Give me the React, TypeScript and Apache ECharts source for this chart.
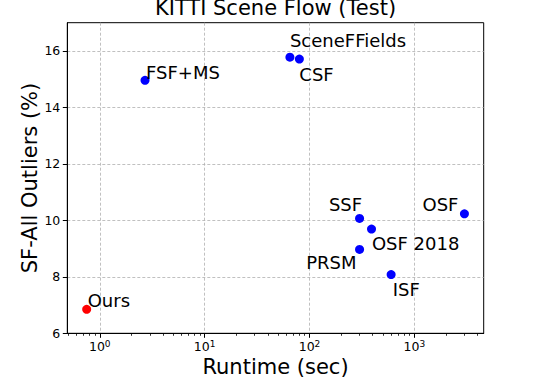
import React, { useEffect, useRef } from "react";
import * as echarts from "echarts";

const methods = ["Ours", "FSF+MS", "SceneFFields", "CSF", "SSF", "OSF 2018", "PRSM", "ISF", "OSF"];
const runtimes = [0.75, 2.7, 65, 80, 300, 390, 300, 600, 3000];
const outliers = [6.85, 14.96, 15.78, 15.71, 10.07, 9.69, 8.97, 8.08, 10.23];
const yTicks = [6, 8, 10, 12, 14, 16];
const xMajor = [1, 10, 100, 1000];
const xMinor = [0.5, 0.6, 0.7, 0.8, 0.9, 2, 3, 4, 5, 6, 7, 8, 9, 20, 30, 40, 50, 60, 70, 80, 90, 200, 300, 400, 500, 600, 700, 800, 900, 2000, 3000, 4000];

// label placement per method: [align, dx, dy]
const labelPlacement: Record<string, [string, number, number]> = {
  "Ours": ["left", 1, -8.6],
  "FSF+MS": ["left", 1, -8],
  "SceneFFields": ["left", 0, -16.7],
  "CSF": ["left", 0, 15],
  "SSF": ["right", 2.6, -13.6],
  "OSF 2018": ["left", 0.4, 14],
  "PRSM": ["right", -3, 13],
  "ISF": ["left", 1.6, 15],
  "OSF": ["right", -6, -9.3],
};

const FONT = "DejaVu Sans";

export default function App() {
  const ref = useRef<HTMLDivElement>(null);
  useEffect(() => {
    if (!ref.current) return;
    const chart = echarts.init(ref.current, undefined, { renderer: "svg" });
    const data = methods.map((m, i) => {
      const [align, dx, dy] = labelPlacement[m];
      return {
        name: m,
        value: [runtimes[i], outliers[i]],
        itemStyle: { color: m === "Ours" ? "#ff0000" : "#0000ff", opacity: 1 },
        label: {
          show: true,
          formatter: m,
          position: "inside",
          align,
          verticalAlign: "middle",
          offset: [dx, dy],
          fontFamily: FONT,
          fontSize: 18,
          color: "#000",
          opacity: 1,
        },
      };
    });
    const xMin = 0.49;
    const xMax = 4580;
    chart.setOption({
      animation: false,
      backgroundColor: "#fff",
      title: {
        text: "KITTI Scene Flow (Test)",
        left: 275.5,
        textAlign: "center",
        top: -3,
        padding: 0,
        textStyle: { fontFamily: FONT, fontSize: 21, fontWeight: "normal", color: "#000" },
      },
      grid: {
        left: 67.3,
        right: 54.3,
        top: 22.7,
        bottom: 44.7,
        outerBoundsMode: "none",
        containLabel: false,
        show: true,
        borderColor: "#000",
        borderWidth: 1,
        backgroundColor: "transparent",
      },
      xAxis: [
        {
          type: "log",
          logBase: 10,
          min: xMin,
          max: xMax,
          name: "Runtime (sec)",
          nameLocation: "middle",
          nameGap: 23,
          nameMoveOverlap: false,
          nameTextStyle: { fontFamily: FONT, fontSize: 21, color: "#000", lineHeight: 21 },
          axisLine: { show: true, lineStyle: { color: "#000", width: 1 } },
          axisTick: { show: true, inside: false, length: 4.5, lineStyle: { color: "#000" }, customValues: xMajor },
          axisLabel: {
            show: true,
            customValues: xMajor,
            margin: 6,
            fontFamily: FONT,
            color: "#000",
            formatter: (v: number) => {
              const e = Math.round(Math.log10(v));
              if (Math.abs(v - Math.pow(10, e)) > 1e-6 * v) return "";
              return "{b|10}{s|" + e + "}";
            },
            rich: {
              b: { fontFamily: FONT, fontSize: 12.5, color: "#000", verticalAlign: "bottom" },
              s: { fontFamily: FONT, fontSize: 9, color: "#000", verticalAlign: "top", padding: [0, 0, 5, 0] },
            },
          },
          splitLine: { show: true, lineStyle: { color: "#b0b0b0", width: 0.8, type: [3, 2] } },
        },
        {
          type: "log",
          logBase: 10,
          min: xMin,
          max: xMax,
          position: "bottom",
          axisLine: { show: false },
          axisLabel: { show: false },
          splitLine: { show: false },
          axisTick: { show: true, length: 2.5, lineStyle: { color: "#000", width: 0.8 }, customValues: xMinor },
        },
      ],
      yAxis: {
        type: "value",
        min: 6,
        max: 17,
        interval: 2,
        name: "SF-All Outliers (%)",
        nameLocation: "middle",
        nameGap: 27,
        nameMoveOverlap: false,
        nameTextStyle: { fontFamily: FONT, fontSize: 21, color: "#000" },
        axisLine: { show: true, lineStyle: { color: "#000", width: 1 } },
        axisTick: { show: true, length: 4.5, lineStyle: { color: "#000" }, customValues: yTicks },
        axisLabel: {
          customValues: yTicks,
          margin: 7,
          fontFamily: FONT,
          fontSize: 12.5,
          color: "#000",
        },
        splitLine: { show: true, lineStyle: { color: "#b0b0b0", width: 0.8, type: [3, 2] } },
      },
      series: [
        {
          type: "scatter",
          xAxisIndex: 0,
          symbol: "circle",
          symbolSize: 9,
          itemStyle: { opacity: 1 },
          data,
        },
      ],
    });
    return () => chart.dispose();
  }, []);
  return (
    <div
      ref={ref}
      style={{ position: "fixed", left: 0, top: 0, width: 538, height: 378, background: "#fff" }}
    />
  );
}
